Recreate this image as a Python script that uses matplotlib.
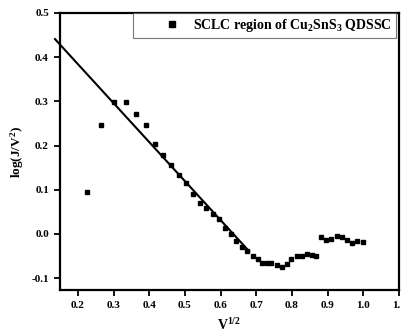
import numpy as np
import matplotlib
matplotlib.use("Agg")
import matplotlib.pyplot as plt

# SCLC region data: V^(1/2) vs log(J/V^2)
v_sqrt = [0.225, 0.266, 0.300, 0.334, 0.363, 0.390, 0.415, 0.438, 0.461, 0.483,
          0.504, 0.522, 0.542, 0.559, 0.580, 0.596, 0.611, 0.628, 0.644, 0.661,
          0.675, 0.690, 0.704, 0.717, 0.729, 0.742, 0.757, 0.773, 0.785, 0.798,
          0.813, 0.827, 0.842, 0.855, 0.868, 0.881, 0.896, 0.909, 0.926, 0.940,
          0.954, 0.968, 0.982, 1.000]
log_jv2 = [0.095, 0.246, 0.299, 0.298, 0.271, 0.247, 0.204, 0.178, 0.155, 0.134,
           0.116, 0.090, 0.069, 0.058, 0.045, 0.034, 0.014, -0.001, -0.016, -0.029,
           -0.038, -0.049, -0.057, -0.066, -0.067, -0.067, -0.070, -0.075, -0.069, -0.057,
           -0.049, -0.051, -0.046, -0.048, -0.051, -0.008, -0.014, -0.011, -0.005, -0.006,
           -0.013, -0.021, -0.017, -0.019]

# linear fit over the space-charge-limited part
fit_x = [0.136, 0.680]
fit_intercept = 0.561
fit_slope = -0.883

x_ticks = [0.2, 0.3, 0.4, 0.5, 0.6, 0.7, 0.8, 0.9, 1.0, 1.1]
y_ticks = [-0.1, 0.0, 0.1, 0.2, 0.3, 0.4, 0.5]

plt.rcParams['font.family'] = ['Liberation Serif', 'DejaVu Serif']
plt.rcParams['font.weight'] = 'bold'
plt.rcParams['mathtext.default'] = 'regular'

fig = plt.figure(figsize=(4.01, 3.35), dpi=100)
ax = fig.add_axes([60 / 401, 45 / 335, 339 / 401, 277 / 335])

ax.plot(v_sqrt, log_jv2, 's', color='black', markersize=3.3,
        label=r'SCLC region of Cu$_2$SnS$_3$ QDSSC')
fx = np.array(fit_x)
ax.plot(fx, fit_intercept + fit_slope * fx, '-', color='black', lw=1.5,
        clip_on=False)

ax.set_xlim(0.15, 1.1)
ax.set_ylim(-0.127, 0.5)
ax.set_xticks(x_ticks)
ax.set_yticks(y_ticks)
ax.set_xticklabels([f'{t:.1f}' for t in x_ticks])
ax.set_yticklabels([f'{t:.1f}' for t in y_ticks])
ax.tick_params(direction='out', length=4, width=1.3, labelsize=8, pad=4,
               top=False, right=False)
for s in ax.spines.values():
    s.set_linewidth(1.6)

ax.set_xlabel(r'V$^{1/2}$', fontsize=10, fontweight='bold', labelpad=5)
ax.set_ylabel(r'log(J/V$^2$)', fontsize=9.5, fontweight='bold', labelpad=4)

leg = ax.legend(loc='upper right', bbox_to_anchor=(0.99, 1.0), fontsize=10,
                frameon=True, fancybox=False, borderaxespad=0, markerscale=1.3,
                handletextpad=-1.0, borderpad=0.3, handlelength=5.0)
leg.get_frame().set_edgecolor('#555555')
leg.get_frame().set_linewidth(0.8)

fig.savefig('out.png', dpi=100)
